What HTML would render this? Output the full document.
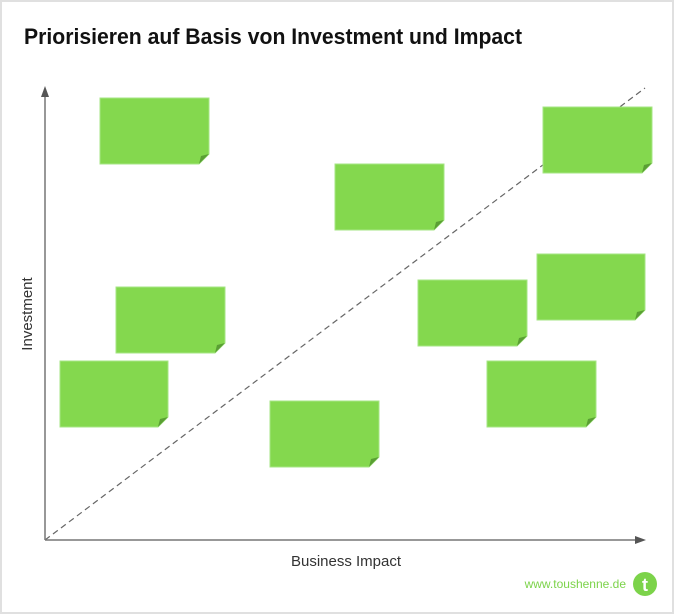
<!DOCTYPE html>
<html><head><meta charset="utf-8"><style>
html,body{margin:0;padding:0;background:#fff}
svg{display:block}
</style></head><body>
<svg width="674" height="614" xmlns="http://www.w3.org/2000/svg">
<rect x="1" y="1" width="672" height="612" fill="#fff" stroke="#e0e0e0" stroke-width="2"/>
<text x="24" y="44" font-family="Liberation Sans, sans-serif" font-weight="bold" font-size="22" fill="#111" textLength="498" lengthAdjust="spacingAndGlyphs">Priorisieren auf Basis von Investment und Impact</text>
<line x1="45" y1="540" x2="645" y2="88" stroke="#666" stroke-width="1.2" stroke-dasharray="6,4"/>
<line x1="45" y1="540" x2="45" y2="96" stroke="#777" stroke-width="1.5"/>
<polygon points="45,86 41,97 49,97" fill="#555"/>
<line x1="45" y1="540" x2="636" y2="540" stroke="#777" stroke-width="1.5"/>
<polygon points="646,540 635,536 635,544" fill="#555"/>
<text x="346" y="566" text-anchor="middle" font-family="Liberation Sans, sans-serif" font-size="15" fill="#333">Business Impact</text>
<text transform="translate(32,314) rotate(-90)" text-anchor="middle" font-family="Liberation Sans, sans-serif" font-size="15" fill="#333">Investment</text>
<g fill="#84d84e" stroke="#a6e684" stroke-width="1">
<polygon points="100,98 209,98 209,154 199,164 100,164"/>
<polygon points="335,164 444,164 444,220 434,230 335,230"/>
<polygon points="543,107 652,107 652,163 642,173 543,173"/>
<polygon points="116,287 225,287 225,343 215,353 116,353"/>
<polygon points="60,361 168,361 168,417 158,427 60,427"/>
<polygon points="418,280 527,280 527,336 517,346 418,346"/>
<polygon points="537,254 645,254 645,310 635,320 537,320"/>
<polygon points="487,361 596,361 596,417 586,427 487,427"/>
<polygon points="270,401 379,401 379,457 369,467 270,467"/>
</g>
<g fill="#5a9f34">
<polygon points="199,164 209,154 201,156"/>
<polygon points="434,230 444,220 436,222"/>
<polygon points="642,173 652,163 644,165"/>
<polygon points="215,353 225,343 217,345"/>
<polygon points="158,427 168,417 160,419"/>
<polygon points="517,346 527,336 519,338"/>
<polygon points="635,320 645,310 637,312"/>
<polygon points="586,427 596,417 588,419"/>
<polygon points="369,467 379,457 371,459"/>
</g>
<text x="626" y="588" text-anchor="end" font-family="Liberation Sans, sans-serif" font-size="12" fill="#7cd34a">www.toushenne.de</text>
<circle cx="645" cy="584" r="12" fill="#7cd34a"/>
<text x="645" y="591" text-anchor="middle" font-family="Liberation Sans, sans-serif" font-weight="bold" font-size="18" fill="#fff">t</text>
</svg>
</body></html>
